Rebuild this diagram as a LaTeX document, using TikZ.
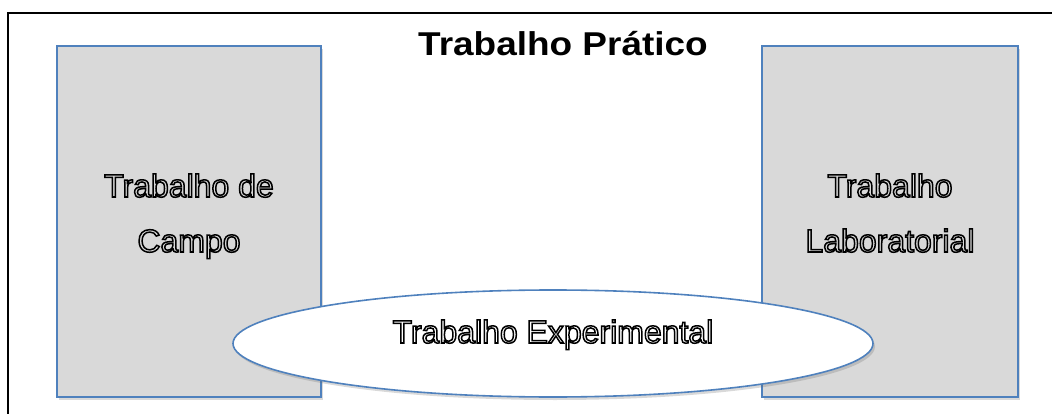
\documentclass[tikz,border=0pt]{standalone}
\usepackage{fontspec}
\setmainfont{Liberation Sans}
\newfontfamily\titlefont[FakeStretch=1.12]{Liberation Sans}
\usetikzlibrary{shapes.geometric,shadows}
\definecolor{boxfill}{HTML}{D9D9D9}
\definecolor{boxline}{HTML}{4F81BD}
\newcommand\hollowtext[1]{\special{pdf:literal direct 1 Tr 1.5 w}#1\special{pdf:literal direct 0 Tr}}
\tikzset{
  panel/.style={draw=boxline, line width=1.6pt, fill=boxfill, inner sep=0pt,
    drop shadow={shadow xshift=2pt, shadow yshift=-3pt, opacity=0.25, fill=black!60}},
  oval/.style={ellipse, draw=boxline, line width=1.6pt, fill=white, inner sep=0pt,
    drop shadow={shadow xshift=2pt, shadow yshift=-3pt, opacity=0.25, fill=black!60}},
  label/.style={anchor=base, inner sep=0pt, font=\fontsize{32}{38}\selectfont},
  ttl/.style={anchor=base, inner sep=0pt, font=\titlefont\bfseries\fontsize{33}{40}\selectfont}
}
\begin{document}
\begin{tikzpicture}[x=1pt, y=-1pt]
\useasboundingbox (0,0) rectangle (1052,414);
\coordinate (fb) at (8,414);
\coordinate (ftl) at (8,13);
\coordinate (ftr) at (1052,13);
\draw[line width=2pt] (fb) -- (ftl) -- (ftr);
\node[panel, minimum width=264pt, minimum height=351pt] (campo) at (189,221.5) {};
\node[panel, minimum width=256pt, minimum height=351pt] (lab) at (890,221.5) {};
\node[oval, minimum width=640pt, minimum height=107pt] (exp) at (553,343.5) {};
\node[ttl] (title) at (563,56) {Trabalho Prático};
\node[label] (c1) at (189,197) {\hollowtext{Trabalho de}};
\node[label] (c2) at (189,252) {\hollowtext{Campo}};
\node[label] (l1) at (890,197) {\hollowtext{Trabalho}};
\node[label] (l2) at (890,252) {\hollowtext{Laboratorial}};
\node[label] (e1) at (553,343) {\hollowtext{Trabalho Experimental}};
\end{tikzpicture}
\end{document}
